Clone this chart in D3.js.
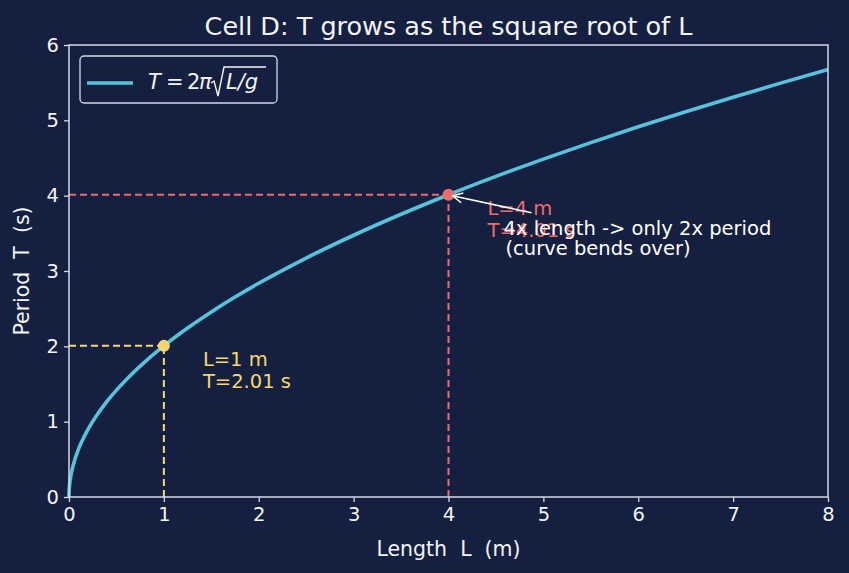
<!DOCTYPE html>
<html><head><meta charset="utf-8">
<script src="https://cdn.jsdelivr.net/npm/d3@7"></script>
<style>
html,body{margin:0;padding:0;background:#152040;}
svg{display:block;font-family:"DejaVu Sans",sans-serif;}
text{white-space:pre;}
</style></head>
<body>
<script>
// Curve samples: length L (m) and period T (s)
const lengths = [0, 0.001, 0.005, 0.02, 0.05, 0.1, 0.2, 0.3, 0.4, 0.5, 0.6, 0.8, 1, 1.25, 1.5, 1.75, 2, 2.5, 3, 3.5, 4, 4.5, 5, 5.5, 6, 6.5, 7, 7.5, 8];
const periods = [0, 0.0634, 0.1419, 0.2837, 0.4486, 0.6344, 0.8971, 1.0988, 1.2687, 1.4185, 1.5539, 1.7943, 2.0061, 2.2429, 2.4569, 2.6538, 2.8370, 3.1719, 3.4746, 3.7530, 4.0121, 4.2555, 4.4857, 4.7047, 4.9138, 5.1145, 5.3075, 5.4938, 5.6740];
const markerL = [1, 4];
const markerT = [2.0061, 4.0121];
const markerLabels = [["L=1 m", "T=2.01 s"], ["L=4 m", "T=4.01 s"]];
const noteLines = ["4x length -> only 2x period", "(curve bends over)"];
const xTicks = [0, 1, 2, 3, 4, 5, 6, 7, 8];
const yTicks = [0, 1, 2, 3, 4, 5, 6];

const W = 849, H = 573;
const bg = "#152040", fg = "#f2f4f8", spine = "#d3d9e6";
const curveColor = "#56c2db";
const markerColors = ["#f5d76e", "#f06a6a"];
const FS = 19.5;

const svg = d3.select("body").append("svg").attr("width", W).attr("height", H);
svg.append("rect").attr("width", W).attr("height", H).attr("fill", bg);

const x = d3.scaleLinear().domain([0, 8]).range([69, 828]);
const y = d3.scaleLinear().domain([0, 6]).range([497, 45]);

// dashed guide lines
markerL.forEach((L, i) => {
  const T = markerT[i];
  svg.append("line").attr("x1", x(0)).attr("x2", x(L)).attr("y1", y(T)).attr("y2", y(T))
    .attr("stroke", markerColors[i]).attr("stroke-width", 2).attr("stroke-dasharray", "7,4");
  svg.append("line").attr("x1", x(L)).attr("x2", x(L)).attr("y1", y(0)).attr("y2", y(T))
    .attr("stroke", markerColors[i]).attr("stroke-width", 2).attr("stroke-dasharray", "7,4");
});

// curve
const pts = lengths.map((L, i) => [L, periods[i]]);
svg.append("path").datum(pts)
  .attr("d", d3.line().x(d => x(d[0])).y(d => y(d[1])).curve(d3.curveMonotoneX))
  .attr("fill", "none").attr("stroke", curveColor).attr("stroke-width", 3.6);

// markers
markerL.forEach((L, i) => {
  svg.append("circle").attr("cx", x(L)).attr("cy", y(markerT[i])).attr("r", 6).attr("fill", markerColors[i]);
});

// marker labels
markerL.forEach((L, i) => {
  const t = svg.append("text").attr("fill", markerColors[i]).attr("font-size", FS);
  markerLabels[i].forEach((s, j) => {
    t.append("tspan").attr("x", x(L) + 39)
      .attr("y", y(markerT[i]) + 20 + j * 22).text(s);
  });
});

// spines
svg.append("rect").attr("x", x(0)).attr("y", y(6)).attr("width", x(8) - x(0)).attr("height", y(0) - y(6))
  .attr("fill", "none").attr("stroke", spine).attr("stroke-width", 1.5);

// axes
const xAxis = svg.append("g").attr("transform", `translate(0,${y(0)})`)
  .call(d3.axisBottom(x).tickValues(xTicks).tickFormat(d3.format("d")).tickSize(5).tickPadding(5));
const yAxis = svg.append("g").attr("transform", `translate(${x(0)},0)`)
  .call(d3.axisLeft(y).tickValues(yTicks).tickFormat(d3.format("d")).tickSize(5).tickPadding(5));
[xAxis, yAxis].forEach(g => {
  g.select(".domain").remove();
  g.selectAll(".tick line").attr("stroke", spine).attr("stroke-width", 1.3);
  g.selectAll(".tick text").attr("fill", fg).attr("font-size", FS).attr("font-family", "DejaVu Sans");
});

// annotation text + arrow
const note = svg.append("text").attr("fill", "#ffffff").attr("font-size", FS);
noteLines.forEach((s, j) => {
  note.append("tspan").attr("x", x(4) + 55 + (j ? 2 : 0)).attr("y", y(4.0121) + 40 + j * 20.5).text(s);
});
const defs = svg.append("defs");
defs.append("marker").attr("id", "arr").attr("viewBox", "0 0 12 12").attr("refX", 11).attr("refY", 6)
  .attr("markerWidth", 12).attr("markerHeight", 12).attr("markerUnits", "userSpaceOnUse").attr("orient", "auto")
  .append("path").attr("d", "M1,1 L11,6 L1,11").attr("fill", "none").attr("stroke", "#ffffff").attr("stroke-width", 1.5);
svg.append("line").attr("x1", x(4) + 83).attr("y1", y(4.0121) + 18).attr("x2", x(4) + 4).attr("y2", y(4.0121) + 1)
  .attr("stroke", "#ffffff").attr("stroke-width", 1.5).attr("marker-end", "url(#arr)");

// title and axis labels
svg.append("text").attr("x", (x(0) + x(8)) / 2).attr("y", 35).attr("text-anchor", "middle")
  .attr("fill", fg).attr("font-size", 25.5).text("Cell D: T grows as the square root of L");
svg.append("text").attr("x", (x(0) + x(8)) / 2).attr("y", 556).attr("text-anchor", "middle")
  .attr("fill", fg).attr("font-size", 20.5).text("Length  L  (m)");
svg.append("text").attr("transform", `translate(29,${(y(0) + y(6)) / 2}) rotate(-90)`).attr("text-anchor", "middle")
  .attr("fill", fg).attr("font-size", 20.5).text("Period  T  (s)");

// legend
const lg = svg.append("g");
lg.append("rect").attr("x", 80).attr("y", 56).attr("width", 197).attr("height", 47).attr("rx", 4)
  .attr("fill", bg).attr("stroke", spine).attr("stroke-width", 1.3);
lg.append("line").attr("x1", 87).attr("x2", 133).attr("y1", 83).attr("y2", 83)
  .attr("stroke", curveColor).attr("stroke-width", 3.5);
const LFS = 21;
lg.append("text").attr("x", 148).attr("y", 89).attr("fill", fg).attr("font-size", LFS).attr("font-style", "italic").text("T");
lg.append("text").attr("x", 166).attr("y", 89).attr("fill", fg).attr("font-size", LFS).text("=");
lg.append("text").attr("x", 187).attr("y", 89).attr("fill", fg).attr("font-size", LFS).text("2");
lg.append("text").attr("x", 199).attr("y", 89).attr("fill", fg).attr("font-size", LFS).attr("font-style", "italic").text("π");
// radical sign
lg.append("path").attr("d", "M211,83 L214,81 L218,96 L224,67 L266,67")
  .attr("fill", "none").attr("stroke", fg).attr("stroke-width", 1.4);
lg.append("text").attr("x", 226).attr("y", 89).attr("fill", fg).attr("font-size", LFS)
  .attr("font-style", "italic").text("L/g");
</script>
</body></html>
